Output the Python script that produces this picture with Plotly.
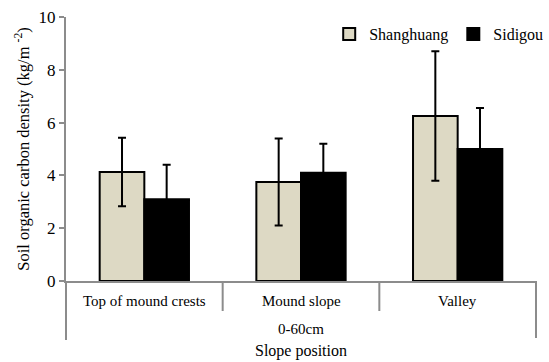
import plotly.graph_objects as go

categories = ["Top of mound crests", "Mound slope", "Valley"]
shanghuang = [4.13, 3.75, 6.25]
shanghuang_err = [1.3, 1.65, 2.45]
sidigou = [3.1, 4.1, 5.0]
sidigou_err = [1.3, 1.1, 1.55]
yticks = [0, 2, 4, 6, 8, 10]

FONT = "Liberation Serif"
GREY = "#8c8c8c"
idx = list(range(len(categories)))

fig = go.Figure()
fig.add_trace(go.Bar(
    x=idx, y=shanghuang, name="Shanghuang",
    marker=dict(color="#DDD9C4", line=dict(color="black", width=2)),
    error_y=dict(type="data", array=shanghuang_err, color="black", thickness=2, width=4),
))
fig.add_trace(go.Bar(
    x=idx, y=sidigou, name="Sidigou",
    marker=dict(color="black", line=dict(color="black", width=2)),
    error_y=dict(type="data", array=sidigou_err, color="black", thickness=2, width=4),
))

shapes = []
shapes.append(dict(type="line", xref="paper", yref="paper", x0=0, x1=0, y0=0, y1=-59/264,
                   line=dict(color=GREY, width=2)))
shapes.append(dict(type="line", xref="paper", yref="paper", x0=1, x1=1, y0=0, y1=-57/264,
                   line=dict(color=GREY, width=2)))
for i in idx[:-1]:
    shapes.append(dict(type="line", xref="x", yref="paper", x0=i + 0.5, x1=i + 0.5, y0=0, y1=-30/264,
                       line=dict(color=GREY, width=2)))

annotations = []
for i, c in zip(idx, categories):
    annotations.append(dict(x=i, y=0, xref="x", yref="paper", text=c, showarrow=False,
                            yanchor="middle", yshift=-20, font=dict(family=FONT, size=15, color="black")))
annotations.append(dict(x=0.5, y=0, xref="paper", yref="paper", text="0-60cm", showarrow=False,
                        yanchor="middle", yshift=-48, font=dict(family=FONT, size=15, color="black")))
annotations.append(dict(x=0.5, y=0, xref="paper", yref="paper", text="Slope position", showarrow=False,
                        yanchor="middle", yshift=-70, font=dict(family=FONT, size=16, color="black")))

fig.update_layout(
    width=549, height=362,
    margin=dict(l=66, r=1, t=17, b=81),
    paper_bgcolor="white", plot_bgcolor="white",
    font=dict(family=FONT, size=15, color="black"),
    barmode="group", bargap=0.43, bargroupgap=0,
    showlegend=True,
    legend=dict(orientation="h", x=0.56, y=1.0, xanchor="left", yanchor="top",
                font=dict(family=FONT, size=16), bgcolor="rgba(0,0,0,0)",
                itemwidth=30, tracegroupgap=0),
    xaxis=dict(range=[-0.5, 2.5], tickvals=idx, showticklabels=False, showgrid=False,
               zeroline=False, showline=True, linecolor=GREY, linewidth=2, ticks=""),
    yaxis=dict(range=[0, 10], tickvals=yticks, ticks="outside", ticklen=5, tickwidth=2,
               tickcolor=GREY, showgrid=False, zeroline=False, showline=True,
               linecolor=GREY, linewidth=2, tickfont=dict(family=FONT, size=17),
               title=dict(text="Soil organic carbon density (kg/m <sup>-2</sup>)",
                          font=dict(family=FONT, size=16.5), standoff=5)),
    shapes=shapes, annotations=annotations,
)
fig.write_html("out.html", config={"displayModeBar": False})

with open("out.html", encoding="utf-8") as f:
    html = f.read()
html = html.replace("<head>", "<head><style>html,body{margin:0;padding:0;}</style>", 1)
with open("out.html", "w", encoding="utf-8") as f:
    f.write(html)
